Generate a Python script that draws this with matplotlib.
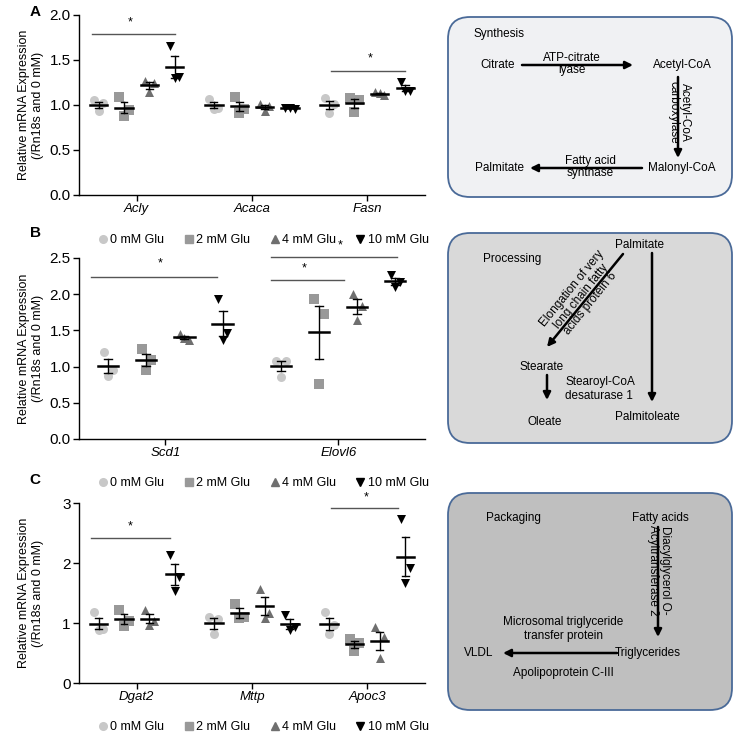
import matplotlib.pyplot as plt
import numpy as np
from matplotlib.patches import FancyBboxPatch

plt.rcParams['font.family'] = ['Liberation Sans', 'DejaVu Sans']

# groups (glucose doses)
groups = ['0 mM Glu', '2 mM Glu', '4 mM Glu', '10 mM Glu']
grp_markers = ['o', 's', '^', 'v']
grp_colors = ['#c8c8c8', '#999999', '#6f6f6f', '#000000']
offsets = [-0.33, -0.11, 0.11, 0.33]
jitter = [-0.04, 0.04, 0.0]

# panel A - synthesis genes (3 replicates per dose)
genes_a = ['Acly', 'Acaca', 'Fasn']
pts_a = [
    [[1.05, 1.02, 0.93], [1.085, 0.945, 0.88], [1.27, 1.24, 1.14], [1.66, 1.31, 1.30]],
    [[1.07, 0.97, 0.96], [1.09, 0.95, 0.91], [1.01, 0.99, 0.93], [0.97, 0.96, 0.97]],
    [[1.08, 1.01, 0.91], [1.08, 1.05, 0.92], [1.14, 1.11, 1.13], [1.26, 1.15, 1.16]],
]

# panel B - processing genes
genes_b = ['Scd1', 'Elovl6']
pts_b = [
    [[1.20, 0.955, 0.875], [1.24, 1.09, 0.955], [1.45, 1.37, 1.39], [1.93, 1.47, 1.37]],
    [[1.08, 1.08, 0.86], [1.94, 1.72, 0.76], [2.00, 1.84, 1.64], [2.26, 2.17, 2.10]],
]

# panel C - packaging genes
genes_c = ['Dgat2', 'Mttp', 'Apoc3']
pts_c = [
    [[1.18, 0.90, 0.89], [1.21, 1.04, 0.95], [1.22, 1.04, 0.96], [2.14, 1.77, 1.53]],
    [[1.10, 1.07, 0.82], [1.32, 1.10, 1.08], [1.57, 1.17, 1.09], [1.14, 0.94, 0.88]],
    [[1.18, 0.96, 0.82], [0.74, 0.67, 0.53], [0.93, 0.77, 0.41], [2.74, 1.92, 1.66]],
]

# significance bars: (x start, x end, y line, x star, y star)
sig_a = [(-0.39, 0.33, 1.79, -0.06, 1.92), (1.69, 2.33, 1.38, 2.03, 1.52)]
sig_b = [(-0.43, 0.30, 2.24, -0.03, 2.42), (0.61, 1.34, 2.52, 1.01, 2.68),
         (0.61, 1.03, 2.19, 0.80, 2.35)]
sig_c = [(-0.40, 0.29, 2.41, -0.06, 2.61), (1.69, 2.27, 2.92, 1.99, 3.10)]


def draw_panel(ax, genes, pts, ymax, yticks, yfmt, sig):
    n = len(genes)
    hw = 0.075 if n == 3 else 0.058
    cw = hw * 0.4
    jscale = 1.0 if n == 3 else 0.7
    for gi in range(n):
        for k in range(4):
            vals = np.array(pts[gi][k])
            xc = gi + offsets[k]
            xs = xc + np.array(jitter) * jscale
            ax.scatter(xs, vals, marker=grp_markers[k], color=grp_colors[k],
                       s=42, linewidths=0, zorder=2)
            m = vals.mean()
            se = vals.std(ddof=1) / np.sqrt(len(vals))
            ax.plot([xc - hw, xc + hw], [m, m], color='k', lw=1.8, zorder=3)
            ax.plot([xc, xc], [m - se, m + se], color='k', lw=1.0, zorder=3)
            for yy in (m - se, m + se):
                ax.plot([xc - cw, xc + cw], [yy, yy], color='k', lw=1.0, zorder=3)
    for x0, x1, yl, xs_, ys_ in sig:
        ax.plot([x0, x1], [yl, yl], color='#555555', lw=1.0, clip_on=False)
        ax.text(xs_, ys_, '*', ha='center', va='center', fontsize=9)
    ax.set_xlim(-0.5, n - 0.5)
    ax.set_ylim(0, ymax)
    ax.set_yticks(yticks)
    ax.set_yticklabels([yfmt.format(t) for t in yticks], fontsize=11)
    ax.set_xticks(range(n))
    ax.set_xticklabels(genes, fontsize=9.5, style='italic')
    ax.set_ylabel('Relative mRNA Expression\n(/Rn18s and 0 mM)', fontsize=9)
    ax.yaxis.set_label_coords(-0.102, 0.5)
    for s in ('top', 'right'):
        ax.spines[s].set_visible(False)
    ax.spines['left'].set_linewidth(1.0)
    ax.spines['bottom'].set_linewidth(1.0)
    ax.tick_params(direction='out', length=4, width=1.0, pad=2)
    ax.set_facecolor('none')


def add_legend(ax, y):
    handles = [plt.Line2D([], [], marker=grp_markers[k], color=grp_colors[k],
                          linestyle='none', markersize=5.5) for k in range(4)]
    ax.legend(handles, groups, loc='center', bbox_to_anchor=(0.535, y), ncol=4,
              frameon=False, fontsize=9, handlelength=0.6, handletextpad=0.3,
              columnspacing=1.65, borderaxespad=0)


fig = plt.figure(figsize=(7.42, 7.42), dpi=100)

# overlay for pathway diagrams (pixel coordinates)
dax = fig.add_axes([0, 0, 1, 1])
dax.set_xlim(0, 742)
dax.set_ylim(742, 0)
dax.axis('off')

boxes = [(448, 17, 284, 180, '#f0f1f3'), (448, 233, 284, 210, '#d9d9d9'),
         (448, 493, 284, 217, '#bfbfbf')]
for bx, by, bw, bh, fc in boxes:
    dax.add_patch(FancyBboxPatch((bx, by), bw, bh, boxstyle='round,pad=0,rounding_size=22',
                                 fc=fc, ec='#4a6a98', lw=1.3))

tfs = 8.5


def arrow(x0, y0, x1, y1):
    dax.annotate('', xy=(x1, y1), xytext=(x0, y0),
                 arrowprops=dict(arrowstyle='-|>', lw=1.8, color='k', mutation_scale=11,
                                 shrinkA=0, shrinkB=0))


# synthesis
dax.text(473, 34, 'Synthesis', fontsize=tfs, va='center')
dax.text(498, 65, 'Citrate', fontsize=tfs, ha='center', va='center')
arrow(522, 65, 633, 65)
dax.text(572, 64, 'ATP-citrate\nlyase', fontsize=tfs, ha='center', va='center', linespacing=1.05)
dax.text(682, 65, 'Acetyl-CoA', fontsize=tfs, ha='center', va='center')
arrow(678, 77, 678, 158)
dax.text(679, 112, 'Acetyl-CoA\ncarboxylase', fontsize=tfs, ha='center', va='center',
         rotation=270, linespacing=1.0)
dax.text(682, 168, 'Malonyl-CoA', fontsize=tfs, ha='center', va='center')
arrow(642, 168, 530, 168)
dax.text(590, 167, 'Fatty acid\nsynthase', fontsize=tfs, ha='center', va='center', linespacing=1.05)
dax.text(500, 168, 'Palmitate', fontsize=tfs, ha='center', va='center')

# processing
dax.text(483, 259, 'Processing', fontsize=tfs, va='center')
dax.text(640, 245, 'Palmitate', fontsize=tfs, ha='center', va='center')
arrow(623, 254, 547, 347)
dax.text(581, 296, 'Elongation of very\nlong chain fatty\nacids protein 6', fontsize=tfs,
         ha='center', va='center', rotation=51, linespacing=1.0, rotation_mode='anchor')
arrow(652, 253, 652, 402)
dax.text(542, 367, 'Stearate', fontsize=tfs, ha='center', va='center')
arrow(547, 375, 547, 400)
dax.text(565, 389, 'Stearoyl-CoA\ndesaturase 1', fontsize=tfs, ha='left', va='center')
dax.text(545, 422, 'Oleate', fontsize=tfs, ha='center', va='center')
dax.text(647, 417, 'Palmitoleate', fontsize=tfs, ha='center', va='center')

# packaging
dax.text(513, 518, 'Packaging', fontsize=tfs, ha='center', va='center')
dax.text(660, 518, 'Fatty acids', fontsize=tfs, ha='center', va='center')
arrow(658, 527, 658, 637)
dax.text(659, 570, 'Diacylglycerol O-\nAcyltransferase 2', fontsize=tfs, ha='center',
         va='center', rotation=270, linespacing=1.0)
dax.text(648, 653, 'Triglycerides', fontsize=tfs, ha='center', va='center')
arrow(617, 653, 503, 653)
dax.text(479, 653, 'VLDL', fontsize=tfs, ha='center', va='center')
dax.text(563, 629, 'Microsomal triglyceride\ntransfer protein', fontsize=tfs, ha='center',
         va='center')
dax.text(563, 673, 'Apolipoprotein C-III', fontsize=tfs, ha='center', va='center')

# data panels
ax_a = fig.add_axes([0.1065, 0.7372, 0.466, 0.2426])
draw_panel(ax_a, genes_a, pts_a, 2.0, [0, 0.5, 1.0, 1.5, 2.0], '{:.1f}', sig_a)

ax_b = fig.add_axes([0.1065, 0.4084, 0.466, 0.2439])
draw_panel(ax_b, genes_b, pts_b, 2.5, [0, 0.5, 1.0, 1.5, 2.0, 2.5], '{:.1f}', sig_b)
add_legend(ax_b, 1.10)

ax_c = fig.add_axes([0.1065, 0.0795, 0.466, 0.2426])
draw_panel(ax_c, genes_c, pts_c, 3.0, [0, 1, 2, 3], '{:.0f}', sig_c)
add_legend(ax_c, 1.11)
leg_top = ax_c.get_legend()
add_legend(ax_c, -0.245)
ax_c.add_artist(leg_top)

fig.text(0.04, 0.984, 'A', fontsize=11, fontweight='bold', va='center')
fig.text(0.04, 0.686, 'B', fontsize=11, fontweight='bold', va='center')
fig.text(0.04, 0.353, 'C', fontsize=11, fontweight='bold', va='center')

fig.savefig('out.png', dpi=100)
